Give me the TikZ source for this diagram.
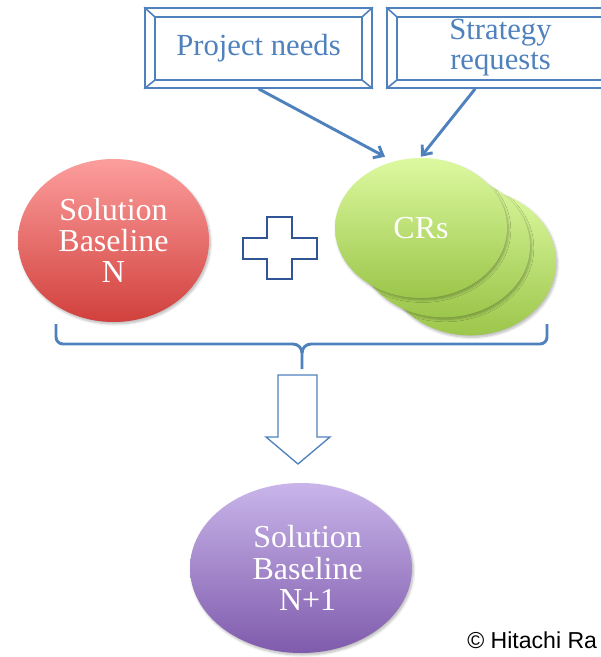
\documentclass[tikz,border=0pt]{standalone}
\usepackage{fontspec}
\setmainfont{Liberation Serif}
\newfontfamily\notefont{Liberation Sans}
\usetikzlibrary{arrows.meta,shapes.geometric,shadows.blur}

\definecolor{blueline}{HTML}{4F81BD}
\definecolor{plusline}{HTML}{2F5597}
\definecolor{redtop}{HTML}{FC9E9D}
\definecolor{redbot}{HTML}{D1403C}
\definecolor{greentop}{HTML}{DDF9A0}
\definecolor{greenbot}{HTML}{9CC64B}
\definecolor{purptop}{HTML}{C9B5EA}
\definecolor{purpbot}{HTML}{7F5BAC}

\begin{document}
\begin{tikzpicture}[x=0.75pt,y=-0.75pt,
  bevelbox/.style={draw=blueline,line width=1.2pt,fill=white,
    minimum width=170.25pt,minimum height=60pt,inner sep=0pt,
    text=blueline,font=\fontsize{23}{22.5}\selectfont,align=center},
  bevel/.style={draw=blueline,line width=1.2pt},
  blob/.style={ellipse,inner sep=0pt,text=white,align=center,
    font=\fontsize{24}{23.5}\selectfont,
    blur shadow={shadow xshift=1pt,shadow yshift=-1.5pt,
      shadow blur steps=6,shadow opacity=28}},
  redblob/.style={blob,top color=redtop,bottom color=redbot},
  greenblob/.style={blob,top color=greentop,bottom color=greenbot,
    minimum width=129pt,minimum height=105pt},
  purpblob/.style={blob,top color=purptop,bottom color=purpbot},
  feed/.style={draw=blueline,line width=2.2pt,
    -{Straight Barb[length=6pt,width=10pt,line width=2.2pt]}},
]
\useasboundingbox (0,0) rectangle (600,657);

% input boxes with bevelled frames
\node[bevelbox] (pn) at (258.5,48) {Project needs};
\node[bevelbox] (sr) at (500.5,48) {Strategy\\requests};
\foreach \b in {pn,sr}{
  \draw[bevel] ([shift={(11,10)}]\b.north west) rectangle ([shift={(-11,-9)}]\b.south east);
  \draw[bevel] (\b.north west) -- ([shift={(11,10)}]\b.north west);
  \draw[bevel] (\b.north east) -- ([shift={(-11,10)}]\b.north east);
  \draw[bevel] (\b.south west) -- ([shift={(11,-9)}]\b.south west);
  \draw[bevel] (\b.south east) -- ([shift={(-11,-9)}]\b.south east);
}

% current baseline
\node[redblob,minimum width=143.25pt,minimum height=122.25pt] (base) at (113.5,240.5)
  {Solution\\Baseline\\N};

% plus sign
\draw[plusline,line width=1.5pt,fill=white]
  (267,217) -- (292,217) -- (292,238) -- (317,238) -- (317,259) -- (292,259)
  -- (292,279) -- (267,279) -- (267,259) -- (243,259) -- (243,238) -- (267,238) -- cycle;

% stack of change requests
\node[greenblob,minimum height=110pt] (cr3) at (470,262) {};
\node[greenblob,minimum height=107pt] (cr2) at (444,246) {};
\node[greenblob] (cr) at (421,228) {CRs};

% inputs feeding the change requests
\draw[feed] (pn.south) -- ([xshift=-27pt,yshift=0.75pt]cr.north);
\draw[feed] ([xshift=-19pt]sr.south) -- ([yshift=0.75pt]cr.north);

% brace grouping baseline and change requests
\draw[blueline,line width=2.2pt,line join=round]
  (56,324) -- (56,337) to[out=-90,in=180] (63,344) -- (293,344)
  to[out=0,in=90] (302,353) -- (302,369);
\draw[blueline,line width=2.2pt,line join=round]
  (302,353) to[out=90,in=180] (311,344) -- (540,344)
  to[out=0,in=-90] (547,337) -- (547,324);

% block arrow down
\draw[blueline,line width=1pt,fill=white]
  (278,375) -- (317,375) -- (317,437) -- (330,437) -- (298,464)
  -- (266,437) -- (278,437) -- cycle;

% next baseline
\node[purpblob,minimum width=166.5pt,minimum height=127.5pt] (next) at (301,568)
  {\hspace*{10pt}Solution\\\hspace*{10pt}Baseline\\\hspace*{10pt}N+1};

\node[anchor=base west,inner sep=0pt,font=\notefont\fontsize{17.3}{17.3}\selectfont] (cp)
  at (467,648) {© Hitachi Ra};
\end{tikzpicture}
\end{document}
